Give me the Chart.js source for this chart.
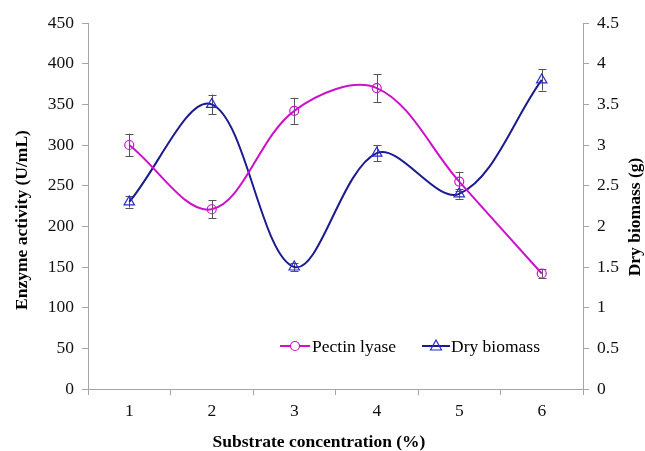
<!DOCTYPE html>
<html>
<head>
<meta charset="utf-8">
<script src="https://cdn.jsdelivr.net/npm/chart.js@4.4.1/dist/chart.umd.min.js"></script>
<style>
html,body{margin:0;padding:0;background:#fff;}
#wrap{width:645px;height:451px;position:relative;}
</style>
</head>
<body>
<div id="wrap"><canvas id="c" width="645" height="451"></canvas></div>
<script>
const categories = ['1', '2', '3', '4', '5', '6'];
const pectinLyase = [300, 221, 342, 370, 255, 142];
const pectinErr = [14, 11, 16, 17, 12, 5];
const dryBiomass = [2.3, 3.5, 1.5, 2.9, 2.4, 3.8];
const biomassErr = [0.07, 0.12, 0.05, 0.1, 0.06, 0.13];
const seriesNames = ['Pectin lyase', 'Dry biomass'];
const xTitle = 'Substrate concentration (%)';
const yTitle = 'Enzyme activity (U/mL)';
const y1Title = 'Dry biomass (g)';

const FONT = '"Liberation Serif", "Times New Roman", serif';
const PINK = '#cc11cc';
const NAVY = '#1c1b8f';
const TRI = '#2a2ad0';
const AXIS = '#a6a6a6';

const errorBars = {
  id: 'errorBars',
  beforeDatasetsDraw(chart) {
    const ctx = chart.ctx;
    const x = chart.scales.x;
    const sets = [[pectinLyase, pectinErr, chart.scales.y], [dryBiomass, biomassErr, chart.scales.y1]];
    ctx.save();
    ctx.strokeStyle = '#555';
    ctx.lineWidth = 1;
    sets.forEach(([vals, errs, ys]) => {
      vals.forEach((v, i) => {
        const px = Math.round(x.getPixelForValue(i)) + 0.5;
        const t = ys.getPixelForValue(v + errs[i]);
        const b = ys.getPixelForValue(v - errs[i]);
        ctx.beginPath();
        ctx.moveTo(px, t); ctx.lineTo(px, b);
        ctx.moveTo(px - 4, Math.round(t) + 0.5); ctx.lineTo(px + 4, Math.round(t) + 0.5);
        ctx.moveTo(px - 4, Math.round(b) + 0.5); ctx.lineTo(px + 4, Math.round(b) + 0.5);
        ctx.stroke();
      });
    });
    ctx.restore();
  }
};

const decorations = {
  id: 'decorations',
  afterDraw(chart) {
    const ctx = chart.ctx;
    ctx.save();
    ctx.fillStyle = '#000';
    ctx.font = 'bold 17.5px ' + FONT;
    ctx.textAlign = 'center';
    ctx.textBaseline = 'middle';
    ctx.fillText(xTitle, 319, 442);
    ctx.save();
    ctx.translate(22, 220);
    ctx.rotate(-Math.PI / 2);
    ctx.fillText(yTitle, 0, 0);
    ctx.restore();
    ctx.save();
    ctx.translate(635, 217);
    ctx.rotate(-Math.PI / 2);
    ctx.fillText(y1Title, 0, 0);
    ctx.restore();

    // legend
    const ly = 346;
    ctx.font = '17.5px ' + FONT;
    ctx.textAlign = 'left';
    ctx.lineWidth = 2;
    ctx.strokeStyle = PINK;
    ctx.beginPath(); ctx.moveTo(280, ly); ctx.lineTo(310, ly); ctx.stroke();
    ctx.lineWidth = 1.2;
    ctx.beginPath(); ctx.arc(295, ly, 4.5, 0, Math.PI * 2); ctx.fillStyle = '#fff'; ctx.fill(); ctx.stroke();
    ctx.fillStyle = '#000';
    ctx.fillText(seriesNames[0], 312, ly + 1);

    ctx.lineWidth = 2;
    ctx.strokeStyle = NAVY;
    ctx.beginPath(); ctx.moveTo(422, ly); ctx.lineTo(450, ly); ctx.stroke();
    ctx.lineWidth = 1.2;
    ctx.strokeStyle = TRI;
    ctx.beginPath();
    ctx.moveTo(436, ly - 6); ctx.lineTo(441.5, ly + 4); ctx.lineTo(430.5, ly + 4); ctx.closePath();
    ctx.stroke();
    ctx.fillStyle = '#000';
    ctx.fillText(seriesNames[1], 451, ly + 1);
    ctx.restore();
  }
};

new Chart(document.getElementById('c'), {
  type: 'line',
  data: {
    labels: categories,
    datasets: [
      {
        label: seriesNames[0], data: pectinLyase, yAxisID: 'y',
        borderColor: PINK, borderWidth: 2, tension: 0.35,
        pointStyle: 'circle', pointRadius: 4.5, pointBorderWidth: 1.2,
        pointBorderColor: PINK, pointBackgroundColor: 'rgba(0,0,0,0)'
      },
      {
        label: seriesNames[1], data: dryBiomass, yAxisID: 'y1',
        borderColor: NAVY, borderWidth: 2, tension: 0.35,
        pointStyle: 'triangle', pointRadius: 6, pointBorderWidth: 1.2,
        pointBorderColor: TRI, pointBackgroundColor: 'rgba(0,0,0,0)'
      }
    ]
  },
  options: {
    responsive: false,
    animation: false,
    devicePixelRatio: 1,
    layout: { padding: { top: 23, left: 0, right: 0, bottom: 0 } },
    plugins: { legend: { display: false }, tooltip: { enabled: false } },
    scales: {
      x: {
        offset: true,
        grid: { offset: true, drawOnChartArea: false, tickLength: 6, color: AXIS },
        border: { color: AXIS, width: 1 },
        ticks: { color: '#111', font: { family: FONT, size: 17.5 }, padding: 6 },
        afterFit(s) { s.height = 62; }
      },
      y: {
        position: 'left', min: 0, max: 450,
        grid: { drawOnChartArea: false, tickLength: 6, color: AXIS },
        border: { color: AXIS, width: 1 },
        ticks: { stepSize: 50, color: '#111', font: { family: FONT, size: 17.5 }, padding: 8 },
        afterFit(s) { s.width = 88; }
      },
      y1: {
        position: 'right', min: 0, max: 4.5,
        grid: { drawOnChartArea: false, tickLength: 6, color: AXIS },
        border: { color: AXIS, width: 1 },
        ticks: {
          stepSize: 0.5, color: '#111', font: { family: FONT, size: 17.5 }, padding: 8,
          callback: (v) => String(Math.round(v * 10) / 10)
        },
        afterFit(s) { s.width = 62; }
      }
    }
  },
  plugins: [errorBars, decorations]
});
</script>
</body>
</html>
